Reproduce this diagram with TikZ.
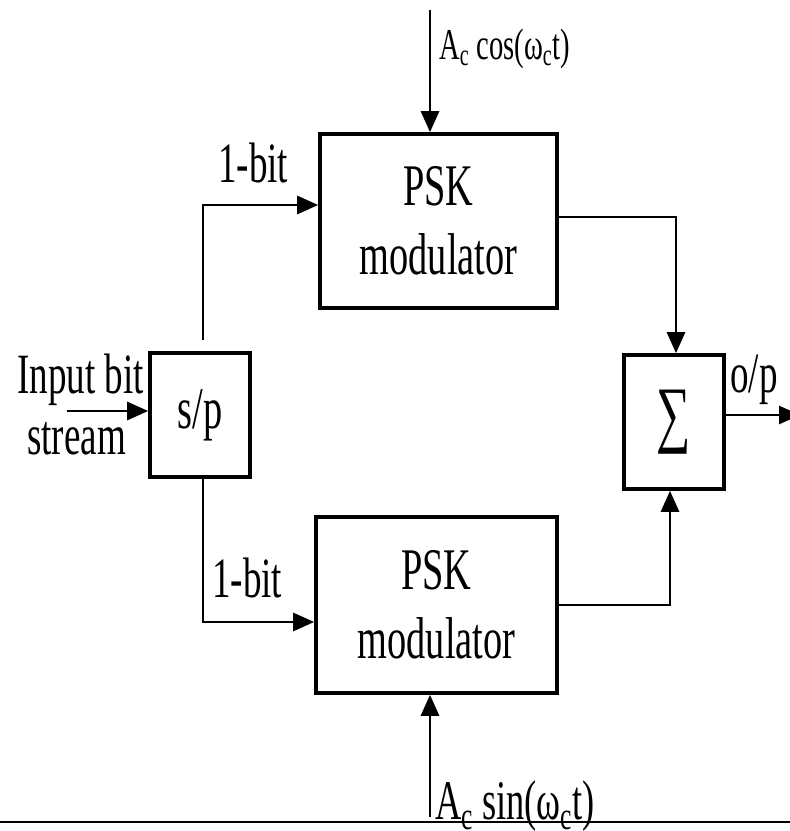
\documentclass[tikz,border=0pt]{standalone}
\usepackage{fontspec}
\setmainfont{Liberation Serif}[FakeStretch=0.65]
\usetikzlibrary{arrows.meta, positioning}

\begin{document}
\begin{tikzpicture}[x=1pt, y=1pt,
    block/.style={draw, line width=3.6pt, inner sep=0pt, align=center, font=\fontsize{59}{69}\selectfont},
    conn/.style={line width=2.8pt, -{Triangle[length=21pt, width=18pt]}},
    lbl/.style={anchor=base west, inner sep=0pt, font=\fontsize{57}{69}\selectfont}]
        \useasboundingbox (0,0) rectangle (790,831);

        % Blocks
        \node[block, minimum width=100pt, minimum height=124pt] (sp) at (200,416) {s/p};
        \node[block, minimum width=237pt, minimum height=174pt] (pskA) at (438.5,610) {PSK\\modulator};
        \node[block, minimum width=241pt, minimum height=176pt] (pskB) at (436.5,226) {PSK\\modulator};
        \node[block, minimum width=100pt, minimum height=134pt] (sum) at (674,409) {\fontsize{74}{74}\selectfont ∑};

        % Free ends
        \coordinate (in) at (67,420);
        \coordinate (cosin) at (430,821);
        \coordinate (sinin) at (430,14);
        \coordinate (out) at (800,416);

        % Labels
        \node[lbl] (inlbl) at (17,437) {Input bit};
        \node[lbl] (strlbl) at (27,376) {stream};
        \node[lbl] (bitA) at (218,648) {1-bit};
        \node[lbl] (bitB) at (212,233) {1-bit};
        \node[lbl] (oplbl) at (730,438) {o/p};
        \node[lbl, font=\fontsize{44}{44}\selectfont] (coslbl) at (439,771) {A\textsubscript{c} cos(ω\textsubscript{c}t)};
        \node[lbl, font=\fontsize{56}{56}\selectfont] (sinlbl) at (435,11) {A\textsubscript{c} sin(ω\textsubscript{c}t)};

        % Connectors
        \draw[conn] (in) -- (in -| sp.west);
        \draw[conn, shorten <=11pt] ([xshift=3pt]sp.north) |- ([yshift=16pt]pskA.west);
        \draw[conn] ([xshift=3pt]sp.south) |- ([yshift=-17pt]pskB.west);
        \draw[conn] ([yshift=4pt]pskA.east) -| ([xshift=2pt]sum.north);
        \draw[conn] (pskB.east) -| ([xshift=-4pt]sum.south);
        \draw[conn] ([yshift=7pt]sum.east) -- (out);
        \draw[conn] (cosin) -- (cosin |- pskA.north);
        \draw[conn] (sinin) -- (sinin |- pskB.south);

        % Base line
        \draw[line width=2pt] (0,9) -- (790,9);
    \end{tikzpicture}
\end{document}
